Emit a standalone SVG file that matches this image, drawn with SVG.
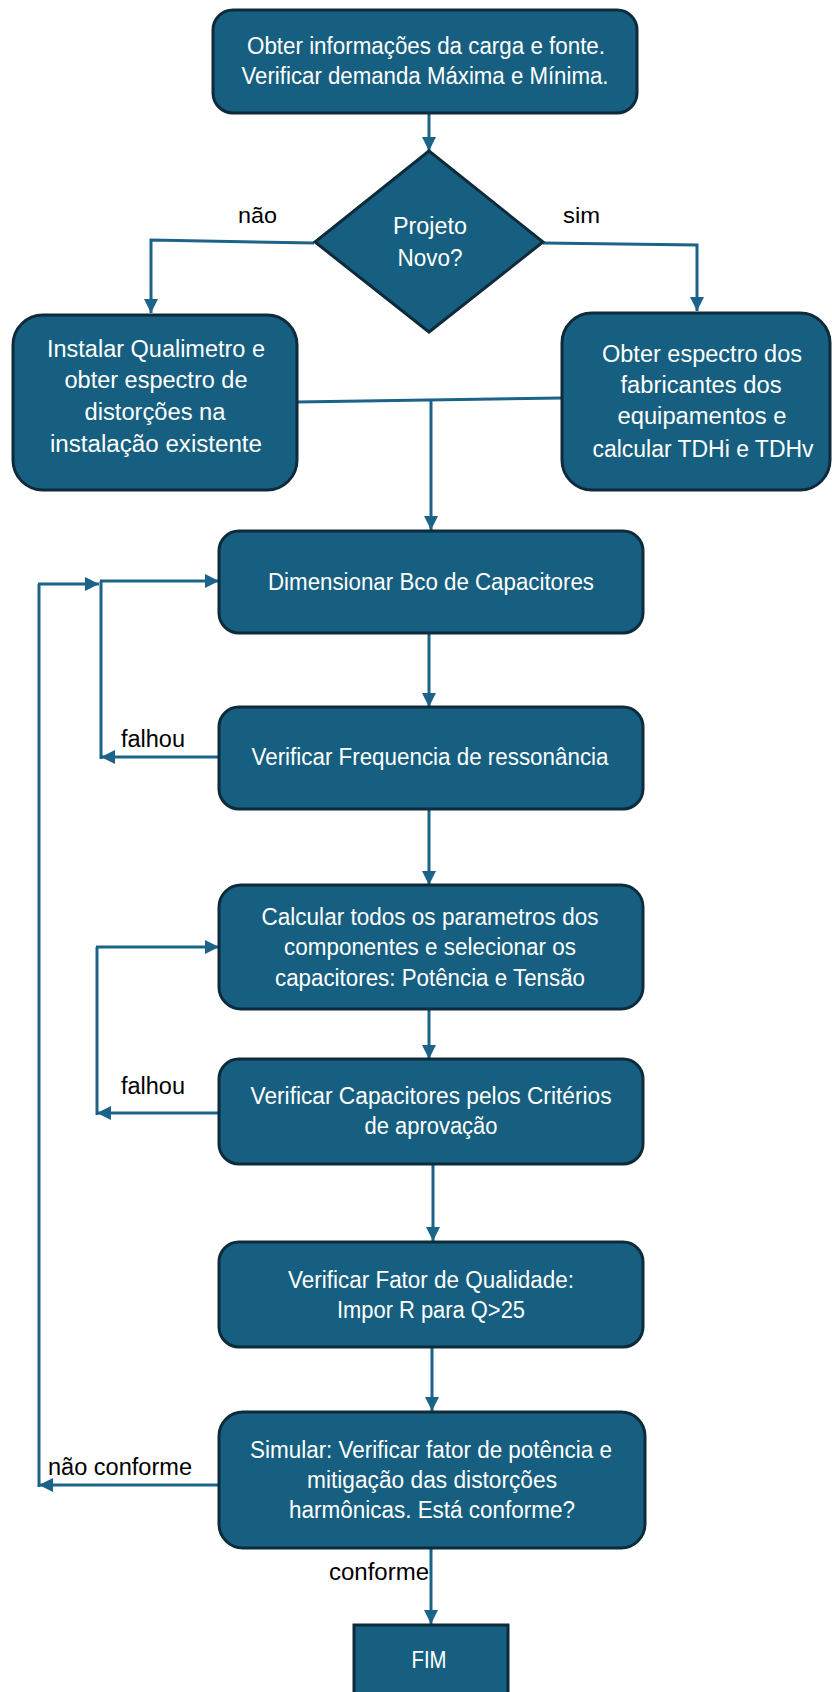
<svg xmlns="http://www.w3.org/2000/svg" width="832" height="1692" viewBox="0 0 832 1692">
<defs>
<style>
.box{fill:#175F80;stroke:#0D2B3B;stroke-width:3}
.t{fill:#FFFFFF;font-family:"Liberation Sans Narrow","Liberation Sans",sans-serif;font-size:23.5px;text-anchor:middle}
.tw{fill:#FFFFFF;font-family:"Liberation Sans",sans-serif;font-size:23px;text-anchor:middle}
.lbl{fill:#000000;font-family:"Liberation Sans Narrow","Liberation Sans",sans-serif;font-size:23px}
.lblw{fill:#000000;font-family:"Liberation Sans",sans-serif;font-size:22px}
.c{fill:none;stroke:#1B6389;stroke-width:3}
</style>
<marker id="ah" markerUnits="userSpaceOnUse" markerWidth="14" markerHeight="14" viewBox="0 0 10 10" refX="10" refY="5" orient="auto">
<path d="M0,0 L10,5 L0,10 z" fill="#1B6389"/>
</marker>
</defs>
<rect width="832" height="1692" fill="#FFFFFF"/>
<g id="connectors">
<line class="c" x1="429" y1="112" x2="429" y2="151" marker-end="url(#ah)"/>
<polyline class="c" points="314,243 151,240 151,313" marker-end="url(#ah)"/>
<polyline class="c" points="543,243 697,245 697,311" marker-end="url(#ah)"/>
<line class="c" x1="297" y1="402" x2="562" y2="398"/>
<line class="c" x1="431" y1="399" x2="431" y2="530" marker-end="url(#ah)"/>
<line class="c" x1="429" y1="633" x2="429" y2="707" marker-end="url(#ah)"/>
<line class="c" x1="429" y1="809" x2="429" y2="885" marker-end="url(#ah)"/>
<line class="c" x1="429" y1="1009" x2="429" y2="1059" marker-end="url(#ah)"/>
<line class="c" x1="433" y1="1164" x2="433" y2="1241" marker-end="url(#ah)"/>
<line class="c" x1="432" y1="1347" x2="432" y2="1411" marker-end="url(#ah)"/>
<line class="c" x1="431" y1="1548" x2="431" y2="1624" marker-end="url(#ah)"/>
<line class="c" x1="219" y1="757" x2="101" y2="757" marker-end="url(#ah)"/>
<line class="c" x1="101" y1="759" x2="101" y2="581"/>
<line class="c" x1="100" y1="581" x2="219" y2="581" marker-end="url(#ah)"/>
<line class="c" x1="219" y1="1113" x2="97" y2="1113" marker-end="url(#ah)"/>
<line class="c" x1="97" y1="1115" x2="97" y2="947"/>
<line class="c" x1="96" y1="947" x2="219" y2="947" marker-end="url(#ah)"/>
<line class="c" x1="219" y1="1485" x2="39" y2="1485" marker-end="url(#ah)"/>
<line class="c" x1="39" y1="1487" x2="39" y2="584"/>
<line class="c" x1="38" y1="584" x2="99" y2="584" marker-end="url(#ah)"/>
</g>
<g id="labels">
<text class="lblw" x="238" y="223" textLength="39" lengthAdjust="spacingAndGlyphs">não</text>
<text class="lblw" x="563" y="223" textLength="37" lengthAdjust="spacingAndGlyphs">sim</text>
<text class="lbl" x="121" y="747" textLength="64" lengthAdjust="spacingAndGlyphs">falhou</text>
<text class="lbl" x="121" y="1094" textLength="64" lengthAdjust="spacingAndGlyphs">falhou</text>
<text class="lbl" x="48" y="1475" textLength="144" lengthAdjust="spacingAndGlyphs">não conforme</text>
<text class="lbl" x="329" y="1580" textLength="100" lengthAdjust="spacingAndGlyphs">conforme</text>
</g>
<g id="n-start">
<rect class="box" x="213" y="10" width="424" height="103" rx="20"/>
<text class="tw" x="426" y="54" textLength="358" lengthAdjust="spacingAndGlyphs">Obter informações da carga e fonte.</text>
<text class="tw" x="425" y="84" textLength="367" lengthAdjust="spacingAndGlyphs">Verificar demanda Máxima e Mínima.</text>
</g>
<g id="n-decision">
<polygon class="box" points="429,151 543,242 429,332 315,242"/>
<text class="tw" x="430" y="234" textLength="74" lengthAdjust="spacingAndGlyphs">Projeto</text>
<text class="tw" x="430" y="266" textLength="65" lengthAdjust="spacingAndGlyphs">Novo?</text>
</g>
<g id="n-qualimetro">
<rect class="box" x="13" y="315" width="284" height="175" rx="30"/>
<text class="t" x="156" y="357" textLength="218" lengthAdjust="spacingAndGlyphs">Instalar Qualimetro e</text>
<text class="t" x="156" y="388" textLength="183" lengthAdjust="spacingAndGlyphs">obter espectro de</text>
<text class="t" x="155" y="420" textLength="141" lengthAdjust="spacingAndGlyphs">distorções na</text>
<text class="t" x="156" y="452" textLength="212" lengthAdjust="spacingAndGlyphs">instalação existente</text>
</g>
<g id="n-fabricantes">
<rect class="box" x="562" y="313" width="268" height="177" rx="30"/>
<text class="t" x="702" y="362" textLength="200" lengthAdjust="spacingAndGlyphs">Obter espectro dos</text>
<text class="t" x="701" y="393" textLength="161" lengthAdjust="spacingAndGlyphs">fabricantes dos</text>
<text class="t" x="702" y="424" textLength="169" lengthAdjust="spacingAndGlyphs">equipamentos e</text>
<text class="t" x="703" y="457" textLength="221" lengthAdjust="spacingAndGlyphs">calcular TDHi e TDHv</text>
</g>
<g id="n-dimensionar">
<rect class="box" x="219" y="531" width="424" height="102" rx="20"/>
<text class="t" x="431" y="590" textLength="326" lengthAdjust="spacingAndGlyphs">Dimensionar Bco de Capacitores</text>
</g>
<g id="n-frequencia">
<rect class="box" x="219" y="707" width="424" height="102" rx="20"/>
<text class="t" x="430" y="765" textLength="357" lengthAdjust="spacingAndGlyphs">Verificar Frequencia de ressonância</text>
</g>
<g id="n-calcular">
<rect class="box" x="219" y="885" width="424" height="124" rx="22"/>
<text class="t" x="430" y="925" textLength="337" lengthAdjust="spacingAndGlyphs">Calcular todos os parametros dos</text>
<text class="t" x="430" y="955" textLength="292" lengthAdjust="spacingAndGlyphs">componentes e selecionar os</text>
<text class="t" x="430" y="986" textLength="310" lengthAdjust="spacingAndGlyphs">capacitores: Potência e Tensão</text>
</g>
<g id="n-criterios">
<rect class="box" x="219" y="1059" width="424" height="105" rx="20"/>
<text class="t" x="431" y="1104" textLength="361" lengthAdjust="spacingAndGlyphs">Verificar Capacitores pelos Critérios</text>
<text class="t" x="431" y="1134" textLength="133" lengthAdjust="spacingAndGlyphs">de aprovação</text>
</g>
<g id="n-qualidade">
<rect class="box" x="219" y="1242" width="424" height="105" rx="20"/>
<text class="t" x="431" y="1288" textLength="286" lengthAdjust="spacingAndGlyphs">Verificar Fator de Qualidade:</text>
<text class="t" x="431" y="1318" textLength="188" lengthAdjust="spacingAndGlyphs">Impor R para Q&gt;25</text>
</g>
<g id="n-simular">
<rect class="box" x="219" y="1412" width="426" height="136" rx="24"/>
<text class="t" x="431" y="1458" textLength="362" lengthAdjust="spacingAndGlyphs">Simular: Verificar fator de potência e</text>
<text class="t" x="432" y="1488" textLength="250" lengthAdjust="spacingAndGlyphs">mitigação das distorções</text>
<text class="t" x="432" y="1518" textLength="286" lengthAdjust="spacingAndGlyphs">harmônicas. Está conforme?</text>
</g>
<g id="n-fim">
<rect class="box" x="354" y="1625" width="154" height="80"/>
<text class="t" x="429" y="1668" textLength="35" lengthAdjust="spacingAndGlyphs">FIM</text>
</g>
</svg>
